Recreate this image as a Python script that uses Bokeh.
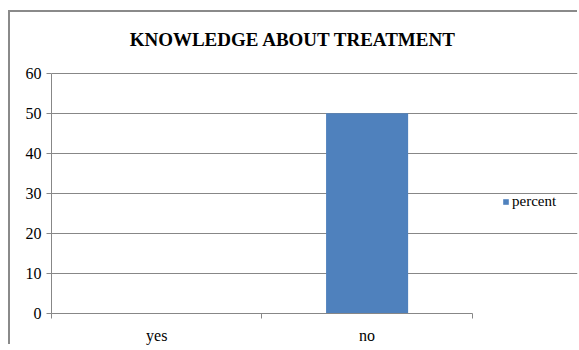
from bokeh.plotting import figure
from bokeh.models import Range1d, FixedTicker, ColumnDataSource, Legend, LegendItem, Label
from bokeh.embed import file_html
from bokeh.resources import INLINE

categories = ["yes", "no"]
percent = [0, 50]
y_ticks = [0, 10, 20, 30, 40, 50, 60]
title_text = "KNOWLEDGE  ABOUT TREATMENT"
series_name = "percent"

GRID = "#878787"
FONT = "Liberation Serif"

n = len(categories)
xs = [i + 0.5 for i in range(n)]
src = ColumnDataSource(dict(x=xs, top=percent, cat=categories))

# frame extends right (legend) and up (title); axes and grid are bounded to the data area
p = figure(width=569, height=334, output_backend="svg", toolbar_location=None,
           x_range=Range1d(0, n * 1.25), y_range=Range1d(0, 75.2),
           min_border_left=41, min_border_right=2, min_border_top=0, min_border_bottom=32)
p.styles = {"margin-left": "10px", "margin-top": "12px",
            "box-shadow": "-2px -2px 0 0 #8a8a8a"}
p.outline_line_color = None
p.background_fill_color = "white"
p.border_fill_color = "white"

r = p.vbar(x="x", top="top", width=0.39, bottom=0, source=src, fill_color="#4f81bd", line_color=None)

# y axis
p.yaxis.ticker = FixedTicker(ticks=y_ticks)
p.yaxis.bounds = (y_ticks[0], y_ticks[-1])
p.yaxis.axis_line_color = GRID
p.yaxis.major_tick_line_color = GRID
p.yaxis.major_tick_out = 5
p.yaxis.major_tick_in = 0
p.yaxis.minor_tick_line_color = None
p.yaxis.major_label_text_font = FONT
p.yaxis.major_label_text_font_size = "16px"
p.yaxis.major_label_text_color = "black"
p.yaxis.major_label_standoff = 5

# x axis: labels at centres, tick marks at category boundaries
p.xaxis.ticker = FixedTicker(ticks=xs, minor_ticks=list(range(n + 1)))
p.xaxis.major_label_overrides = {x: c for x, c in zip(xs, categories)}
p.xaxis.bounds = (0, n)
p.xaxis.axis_line_color = GRID
p.xaxis.major_tick_line_color = None
p.xaxis.minor_tick_line_color = GRID
p.xaxis.minor_tick_out = 5
p.xaxis.minor_tick_in = 0
p.xaxis.major_label_text_font = FONT
p.xaxis.major_label_text_font_size = "16px"
p.xaxis.major_label_text_color = "black"
p.xaxis.major_label_standoff = 7

p.xgrid.grid_line_color = None
p.ygrid.grid_line_color = GRID
p.ygrid.ticker = FixedTicker(ticks=y_ticks)
p.ygrid.bounds = (0, n)

title = Label(x=244, y=274, x_units="screen", y_units="screen", text=title_text,
              text_align="center", text_baseline="middle", text_font=FONT,
              text_font_size="19px", text_font_style="bold", text_color="black")
p.add_layout(title)

legend = Legend(items=[LegendItem(label=series_name, renderers=[r])], location=(451, 103),
                border_line_color=None, background_fill_alpha=0, padding=0, margin=0,
                glyph_width=7, glyph_height=7, label_standoff=3,
                label_text_font=FONT, label_text_font_size="15px", label_text_color="black")
p.add_layout(legend, "center")

open("out.html", "w").write(file_html(p, INLINE))
